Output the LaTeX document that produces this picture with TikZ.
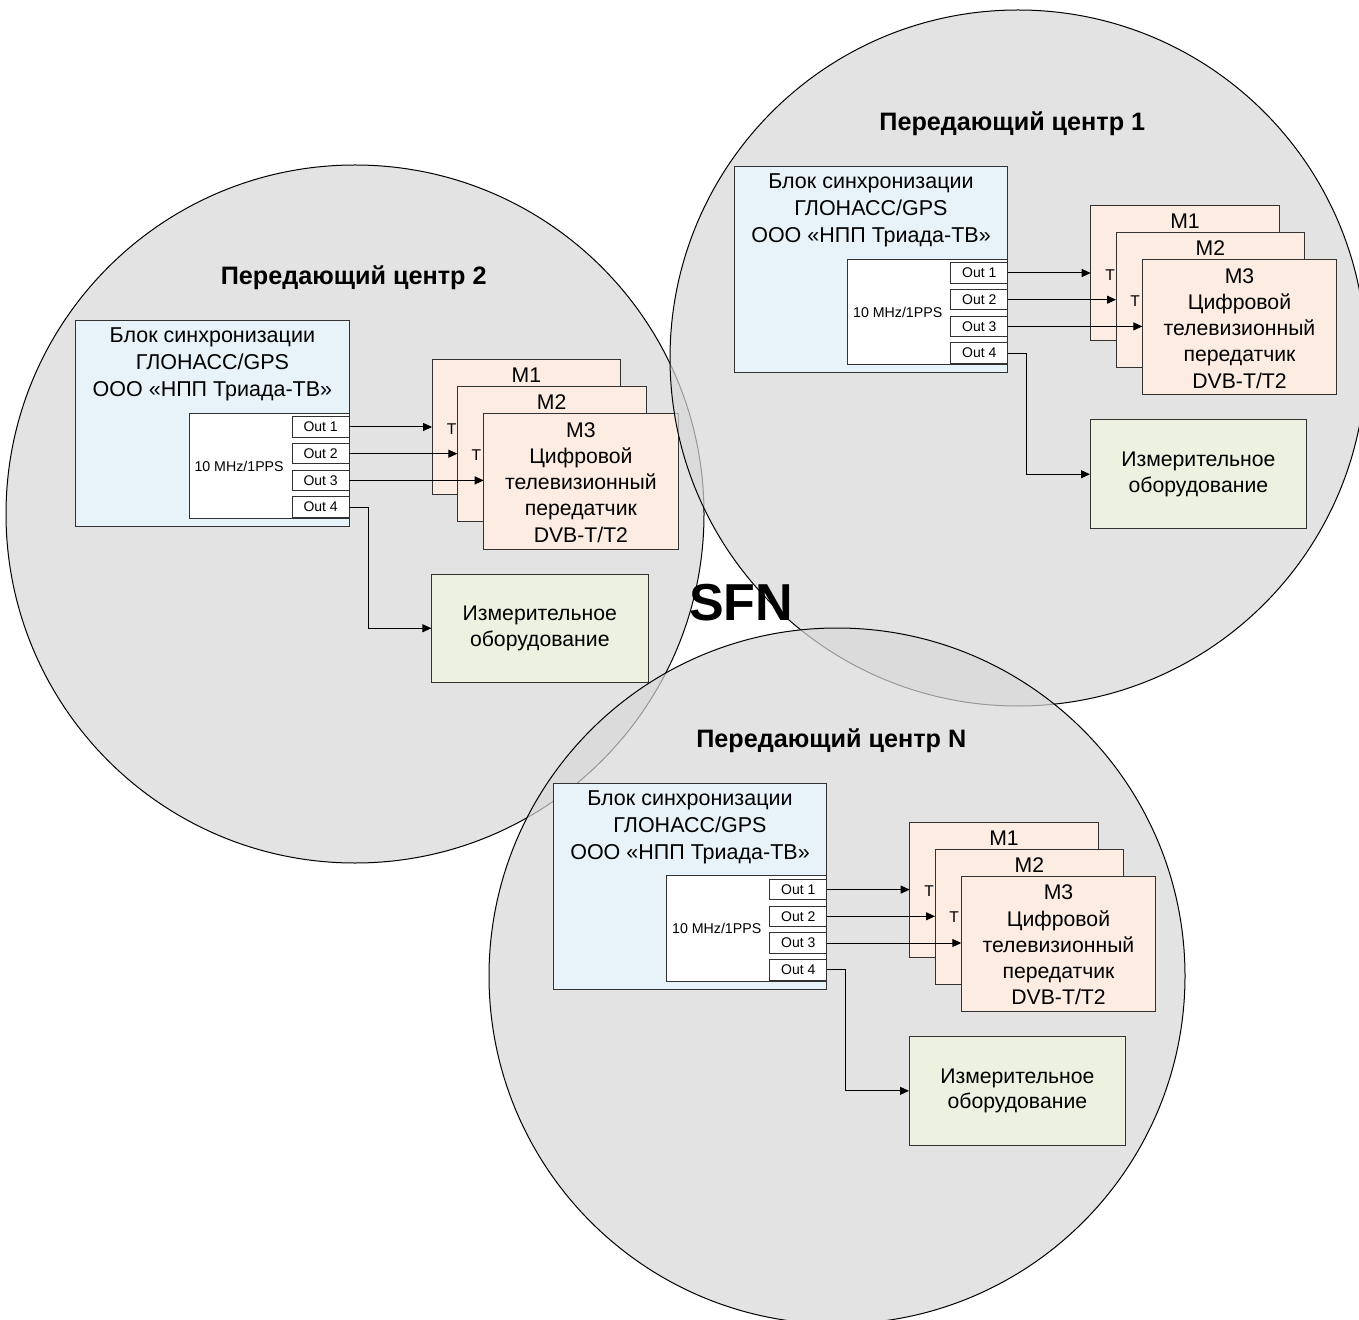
\documentclass[tikz,border=0pt]{standalone}
\usepackage{fontspec}
\setmainfont{Liberation Sans}
\usetikzlibrary{arrows.meta}

\definecolor{syncfill}{RGB}{231,243,248}
\definecolor{txfill}{RGB}{252,236,226}
\definecolor{measfill}{RGB}{236,241,224}
\definecolor{zonefill}{RGB}{216,216,216}
\definecolor{edgecol}{RGB}{50,50,50}

\tikzset{
  box/.style={draw=edgecol, line width=0.5pt, anchor=north west, inner sep=0pt, outer sep=0pt},
  syncbox/.style={box, fill=syncfill, minimum width=136.75pt, minimum height=103pt},
  innerbox/.style={box, fill=white, minimum width=80.05pt, minimum height=52.85pt},
  outbox/.style={box, fill=white, minimum width=28.55pt, minimum height=10.3pt, font=\fontsize{7}{8}\selectfont},
  txbox/.style={box, fill=txfill, minimum width=94.3pt, minimum height=67.5pt},
  txlastbox/.style={box, fill=txfill, minimum width=97.2pt, minimum height=67.5pt},
  measbox/.style={box, fill=measfill, minimum width=108.4pt, minimum height=54.25pt, align=center, font=\fontsize{10.6}{12.9}\selectfont},
  lbl/.style={inner sep=0pt, align=center, font=\fontsize{10.75}{13.5}\selectfont},
  txlbl/.style={inner sep=0pt, align=center, font=\fontsize{10.6}{13.15}\selectfont},
  hidlbl/.style={inner sep=0pt, font=\fontsize{7.8}{8}\selectfont},
  freqlbl/.style={inner sep=0pt, font=\fontsize{7.1}{8}\selectfont},
  titlelbl/.style={inner sep=0pt, font=\bfseries\fontsize{12.6}{15}\selectfont},
  zone/.style={draw=black, line width=0.5pt, fill=zonefill, fill opacity=0.7},
  conn/.style={line width=0.5pt, draw=black, -{Triangle[length=4.5pt,width=4pt]}},
}

\newcommand\txgroup[4]{%
\begin{scope}[shift={(#2,#3)}, name prefix=#1-]
  \node[titlelbl] (title) at (278,-43) {#4};
  \node[syncbox] (sync) at (0,0) {};
  \node[lbl] (synct) at (136.7,43.8) {Блок синхронизации\\ГЛОНАСС/GPS\\ООО «НПП Триада-ТВ»};
  \node[innerbox] (inner) at (113.4,92.6) {};
  \node[freqlbl] (freq) at (163.4,145.3) {10 MHz/1PPS};
  \foreach \k in {1,2,3,4}{
    \node[outbox] (o\k) at (216.4,{96+26.7*(\k-1)}) {Out \k};
  }
  \node[txbox] (m1) at (356.4,39) {};
  \node[txlbl] (m1t) at (450.7,55) {M1};
  \node[hidlbl] (m1h) at (375.9,108.3) {Т};
  \node[txbox] (m2) at (381.7,66) {};
  \node[txlbl] (m2t) at (476,81.6) {M2};
  \node[hidlbl] (m2h) at (400.7,134) {Т};
  \node[txlastbox] (m3) at (408,93.3) {};
  \node[txlbl] (m3t) at (505.2,161.7) {M3\\Цифровой\\телевизионный\\передатчик\\DVB-T/T2};
  \node[measbox] (meas) at (355.7,253.3) {Измерительное\\оборудование};
  \draw[conn] (o1.east) -- (m1.west |- o1.east);
  \draw[conn] (o2.east) -- (m2.west |- o2.east);
  \draw[conn] (o3.east) -- (m3.west |- o3.east);
  \draw[conn] (o4.east) -- ++(19,0) |- (meas.west);
\end{scope}}

\begin{document}
\begin{tikzpicture}[x=0.5pt,y=-0.5pt]
\useasboundingbox (0,0) rectangle (1359,1320);
\fill[white] (0,0) rectangle (1359,1320);
\clip (0,0) rectangle (1359,1320);

\draw[zone] (355,514) circle[radius=174.5pt];
\txgroup{g2}{75.7}{320.7}{Передающий центр 2}

\draw[zone] (1018,358) circle[radius=174pt];
\txgroup{g1}{734.3}{166.7}{Передающий центр 1}

\draw[zone] (837,976) circle[radius=174pt];
\txgroup{gn}{553.3}{783.3}{Передающий центр N}

\node[inner sep=0pt, font=\bfseries\fontsize{26}{30}\selectfont] (sfn) at (741,603) {SFN};
\end{tikzpicture}
\end{document}
